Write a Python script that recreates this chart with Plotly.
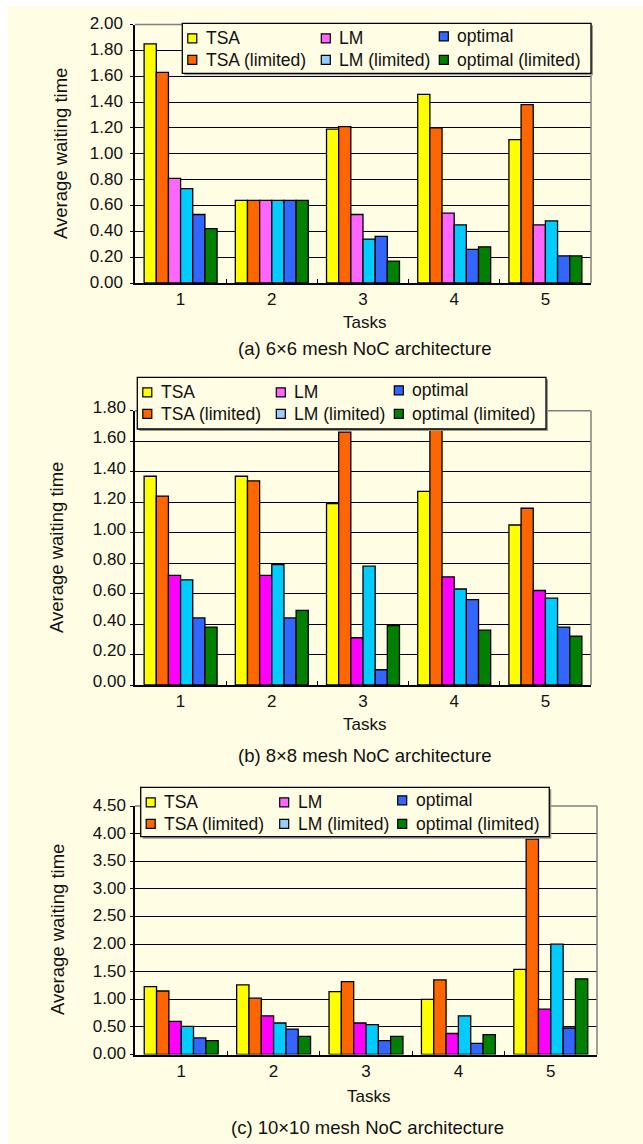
import plotly.graph_objects as go

W, H = 643, 1144

tasks = ["1", "2", "3", "4", "5"]
series_names = ["TSA", "TSA (limited)", "LM", "LM (limited)", "optimal", "optimal (limited)"]

# (a) 6x6 mesh
mesh6_tsa = [1.85, 0.64, 1.19, 1.46, 1.11]
mesh6_tsa_lim = [1.63, 0.64, 1.21, 1.20, 1.38]
mesh6_lm = [0.81, 0.64, 0.53, 0.54, 0.45]
mesh6_lm_lim = [0.73, 0.64, 0.34, 0.45, 0.48]
mesh6_opt = [0.53, 0.64, 0.36, 0.26, 0.21]
mesh6_opt_lim = [0.42, 0.64, 0.17, 0.28, 0.21]

# (b) 8x8 mesh
mesh8_tsa = [1.37, 1.37, 1.19, 1.27, 1.05]
mesh8_tsa_lim = [1.24, 1.34, 1.66, 1.68, 1.16]
mesh8_lm = [0.72, 0.72, 0.31, 0.71, 0.62]
mesh8_lm_lim = [0.69, 0.79, 0.78, 0.63, 0.57]
mesh8_opt = [0.44, 0.44, 0.10, 0.56, 0.38]
mesh8_opt_lim = [0.38, 0.49, 0.39, 0.36, 0.32]

# (c) 10x10 mesh
mesh10_tsa = [1.23, 1.26, 1.14, 1.00, 1.54]
mesh10_tsa_lim = [1.15, 1.02, 1.32, 1.35, 3.90]
mesh10_lm = [0.60, 0.70, 0.57, 0.38, 0.82]
mesh10_lm_lim = [0.51, 0.57, 0.54, 0.70, 2.00]
mesh10_opt = [0.30, 0.46, 0.25, 0.20, 0.48]
mesh10_opt_lim = [0.25, 0.33, 0.33, 0.36, 1.37]

captions = ["(a) 6×6 mesh NoC architecture",
            "(b) 8×8 mesh NoC architecture",
            "(c) 10×10 mesh NoC architecture"]

BG = "#FFFDE3"
TEXT = "#111111"
FONT = "Liberation Sans, Arial, sans-serif"

bar_colors = ["#FFFF00", "#FF6600", "#FF66FF", "#00CCFF", "#3366FF", "#008000"]
swatch_colors = ["#FFFF00", "#FF6600", "#FF66FF", "#99CCFF", "#3366FF", "#008000"]


def px(x):
    return x / W


def py(y):
    return 1 - y / H


# pixel layout of each panel
panels = [
    dict(values=[mesh6_tsa, mesh6_tsa_lim, mesh6_lm, mesh6_lm_lim, mesh6_opt, mesh6_opt_lim],
         ymax=2.0, dtick=0.2, lm="#FF66FF",
         x0=135, x1=591, ytop=24.5, ybot=283, shift=-1, standoff=4,
         ytitle=(61, 154), tasks_y=323, cap_y=349,
         box=(182.3, 23.3, 591, 73.3)),
    dict(values=[mesh8_tsa, mesh8_tsa_lim, mesh8_lm, mesh8_lm_lim, mesh8_opt, mesh8_opt_lim],
         ymax=1.8, dtick=0.2, lm="#FF00FF",
         x0=135, x1=591, ytop=410.7, ybot=685, shift=-4, standoff=1,
         ytitle=(57, 548), tasks_y=724, cap_y=755,
         box=(137.3, 377.3, 546, 429)),
    dict(values=[mesh10_tsa, mesh10_tsa_lim, mesh10_lm, mesh10_lm_lim, mesh10_opt, mesh10_opt_lim],
         ymax=4.5, dtick=0.5, lm="#FF00FF",
         x0=135, x1=597, ytop=806, ybot=1054.5, shift=-1, standoff=1,
         ytitle=(57, 930), tasks_y=1096, cap_y=1127,
         box=(140.7, 787.3, 549.3, 836.7)),
]

fig = go.Figure()
shapes = []
annotations = []

# page background with a thin white strip on the left and top
shapes.append(dict(type="rect", xref="paper", yref="paper", layer="below",
                   x0=px(8), x1=1, y0=0, y1=py(6),
                   fillcolor=BG, line=dict(width=0)))

layout_axes = {}
for k, p in enumerate(panels):
    n = "" if k == 0 else str(k + 1)
    xa, ya = "x" + n, "y" + n
    colors = list(bar_colors)
    colors[2] = p["lm"]
    for i, name in enumerate(series_names):
        fig.add_trace(go.Bar(
            x=tasks, y=p["values"][i], name=name, xaxis=xa, yaxis=ya,
            marker=dict(color=colors[i], line=dict(color="#000000", width=1.3)),
            showlegend=False))

    layout_axes["xaxis" + n] = dict(
        type="category", domain=[px(p["x0"]), px(p["x1"])], anchor=ya,
        range=[-0.5, 4.5], showline=True, linecolor="#000000", linewidth=2,
        ticks="inside", tickson="boundaries", ticklen=4, tickcolor="#000000",
        tickfont=dict(size=17, color=TEXT), showgrid=False, fixedrange=True,
        automargin=False)
    layout_axes["yaxis" + n] = dict(
        domain=[py(p["ybot"]), py(p["ytop"])], anchor=xa,
        range=[0, p["ymax"]], dtick=p["dtick"], tick0=0, tickformat=".2f",
        showline=True, linecolor="#000000", linewidth=1.5,
        ticks="outside", ticklen=3, tickcolor="#000000",
        showgrid=True, gridcolor="#000000", gridwidth=1.2, zeroline=False,
        tickfont=dict(size=17, color=TEXT), ticklabelshift=p["shift"],
        ticklabelstandoff=p["standoff"],
        fixedrange=True, automargin=False)

    # grey frame on top and right
    shapes.append(dict(type="line", xref="paper", yref="paper", layer="above",
                       x0=px(p["x0"]), x1=px(p["x1"]), y0=py(p["ytop"]), y1=py(p["ytop"]),
                       line=dict(color="#808080", width=1.5)))
    shapes.append(dict(type="line", xref="paper", yref="paper", layer="above",
                       x0=px(p["x1"]), x1=px(p["x1"]), y0=py(p["ytop"]), y1=py(p["ybot"]),
                       line=dict(color="#808080", width=1.5)))

    # legend box with a soft shadow
    l, t, r, b = p["box"]
    shapes.append(dict(type="rect", xref="paper", yref="paper", layer="above",
                       x0=px(l + 2), x1=px(r + 2), y0=py(b + 2), y1=py(t + 2),
                       fillcolor="#9a9a90", line=dict(width=0)))
    shapes.append(dict(type="rect", xref="paper", yref="paper", layer="above",
                       x0=px(l), x1=px(r), y0=py(b), y1=py(t),
                       fillcolor=BG, line=dict(color="#000000", width=1.3)))
    col_sw = [l + 5.5, l + 139, l + 257]
    row_y = [t + 15, t + 36.5]
    for i, name in enumerate(series_names):
        c, rr = i // 2, i % 2
        cy = row_y[rr] - (2 if (c == 2 and rr == 0) else 0)
        sx = col_sw[c]
        shapes.append(dict(type="rect", xref="paper", yref="paper", layer="above",
                           x0=px(sx), x1=px(sx + 9), y0=py(cy + 4.5), y1=py(cy - 4.5),
                           fillcolor=swatch_colors[i], line=dict(color="#000000", width=1.2)))
        annotations.append(dict(xref="paper", yref="paper", x=px(sx + 16), y=py(cy),
                                xanchor="left", yanchor="middle", showarrow=False,
                                text=name, font=dict(size=17.5, color=TEXT)))

    cx = (p["x0"] + p["x1"]) / 2
    annotations.append(dict(xref="paper", yref="paper", x=px(p["ytitle"][0]), y=py(p["ytitle"][1]),
                            xanchor="center", yanchor="middle", showarrow=False, textangle=-90,
                            text="Average waiting time", font=dict(size=18.5, color=TEXT)))
    annotations.append(dict(xref="paper", yref="paper", x=px(cx + 2), y=py(p["tasks_y"]),
                            xanchor="center", yanchor="middle", showarrow=False,
                            text="Tasks", font=dict(size=17, color=TEXT)))
    annotations.append(dict(xref="paper", yref="paper", x=px(cx + 1), y=py(p["cap_y"]),
                            xanchor="center", yanchor="middle", showarrow=False,
                            text=captions[k], font=dict(size=18.5, color=TEXT)))

fig.update_layout(
    width=W, height=H,
    margin=dict(l=0, r=0, t=0, b=0),
    paper_bgcolor="#FFFFFF", plot_bgcolor="rgba(0,0,0,0)",
    font=dict(family=FONT, color=TEXT),
    barmode="group", bargap=0.2, bargroupgap=0,
    showlegend=False,
    shapes=shapes, annotations=annotations,
    **layout_axes)

fig.write_html("out.html")
